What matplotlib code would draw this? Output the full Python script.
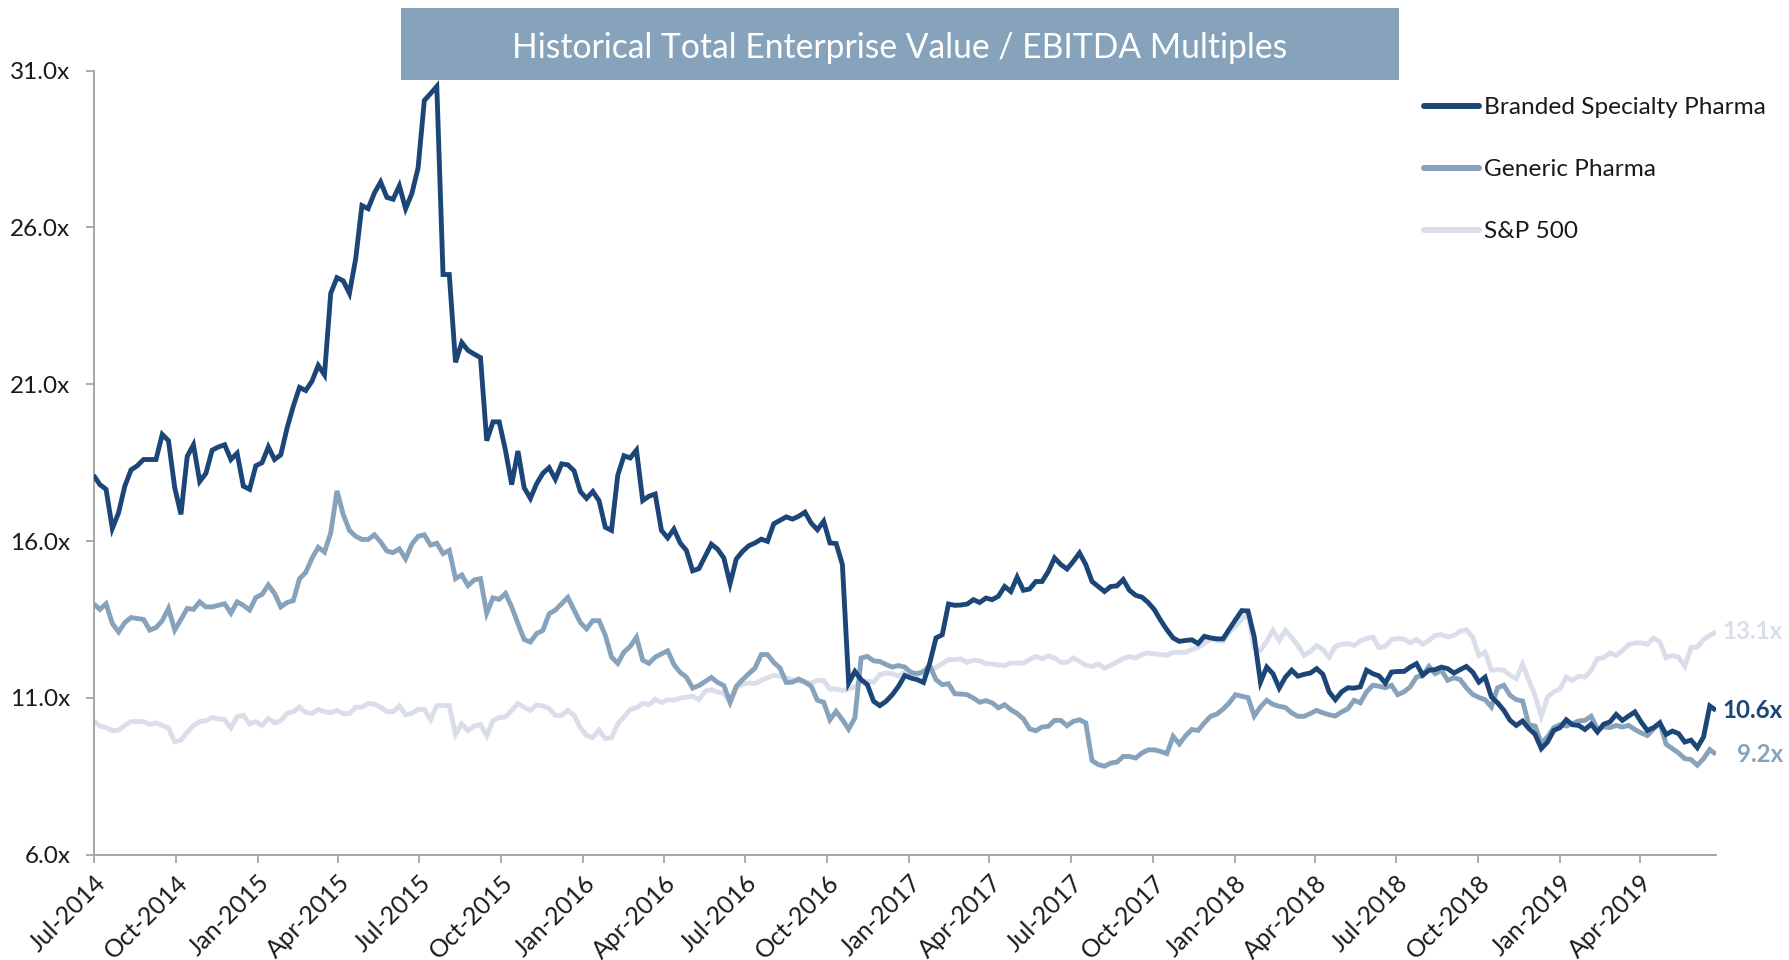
import matplotlib
matplotlib.use("Agg")
import matplotlib.pyplot as plt
import matplotlib.ticker as mticker
from matplotlib.patches import Rectangle
from matplotlib.lines import Line2D
import pandas as pd

plt.rcParams['font.family'] = ['Lato', 'DejaVu Sans']

# ---------------- data (weekly, starting Jul-2014) ----------------
start_date = "2014-07-01"

branded = [
    18.1, 17.8, 17.65, 16.4, 16.9, 17.75, 18.27, 18.4, 18.6, 18.6,
    18.6, 19.4, 19.2, 17.7, 16.85, 18.7, 19.07, 17.9, 18.16, 18.9,
    19.0, 19.07, 18.6, 18.8, 17.75, 17.65, 18.4, 18.5, 19.0, 18.6,
    18.75, 19.6, 20.3, 20.9, 20.8, 21.1, 21.6, 21.3, 23.9, 24.4,
    24.3, 23.9, 25.0, 26.7, 26.6, 27.1, 27.45, 26.96, 26.9, 27.33,
    26.6, 27.08, 27.9, 30.05, 30.27, 30.5, 24.5, 24.5, 21.7, 22.33,
    22.08, 21.96, 21.85, 19.2, 19.8, 19.8, 18.9, 17.8, 18.87, 17.7,
    17.36, 17.83, 18.16, 18.34, 17.97, 18.46, 18.43, 18.24, 17.58, 17.36,
    17.58, 17.29, 16.44, 16.34, 18.1, 18.72, 18.65, 18.9, 17.29, 17.43,
    17.5, 16.34, 16.1, 16.38, 15.94, 15.7, 15.05, 15.12, 15.51, 15.9,
    15.74, 15.46, 14.64, 15.43, 15.67, 15.85, 15.94, 16.06, 15.99, 16.55,
    16.66, 16.77, 16.7, 16.79, 16.92, 16.57, 16.36, 16.63, 15.94, 15.92,
    15.25, 11.47, 11.84, 11.58, 11.42, 10.89, 10.75, 10.89, 11.1, 11.37,
    11.71, 11.63, 11.58, 11.49, 12.11, 12.91, 13.01, 13.99, 13.95, 13.96,
    13.99, 14.13, 14.04, 14.18, 14.13, 14.24, 14.55, 14.39, 14.85, 14.43,
    14.47, 14.71, 14.71, 15.03, 15.46, 15.25, 15.11, 15.35, 15.62, 15.25,
    14.71, 14.55, 14.39, 14.55, 14.57, 14.77, 14.43, 14.27, 14.21, 14.04,
    13.81, 13.47, 13.17, 12.91, 12.8, 12.83, 12.85, 12.73, 12.96, 12.91,
    12.88, 12.88, 13.19, 13.49, 13.78, 13.77, 12.94, 11.5, 11.98, 11.77,
    11.31, 11.66, 11.88, 11.69, 11.75, 11.79, 11.93, 11.75, 11.19, 10.94,
    11.19, 11.32, 11.31, 11.35, 11.88, 11.77, 11.7, 11.47, 11.82, 11.84,
    11.84, 11.98, 12.09, 11.72, 11.88, 11.9, 11.98, 11.93, 11.79, 11.9,
    12.0, 11.82, 11.5, 11.66, 11.03, 10.84, 10.6, 10.28, 10.12, 10.26,
    10.02, 9.84, 9.38, 9.59, 9.96, 10.05, 10.3, 10.14, 10.12, 9.99,
    10.16, 9.91, 10.16, 10.23, 10.47, 10.28, 10.42, 10.55, 10.23, 9.96,
    10.05, 10.2, 9.83, 9.94, 9.86, 9.59, 9.65, 9.41, 9.75, 10.74,
    10.6,
]

generic = [
    14.0, 13.82, 14.0, 13.37, 13.1, 13.4, 13.56, 13.53, 13.5, 13.16,
    13.24, 13.46, 13.85, 13.16, 13.5, 13.85, 13.82, 14.06, 13.9, 13.9,
    13.95, 14.0, 13.7, 14.06, 13.95, 13.8, 14.2, 14.3, 14.6, 14.33,
    13.9, 14.04, 14.1, 14.8, 15.0, 15.45, 15.8, 15.65, 16.26, 17.6,
    16.85, 16.34, 16.15, 16.05, 16.05, 16.2, 15.97, 15.68, 15.63, 15.75,
    15.43, 15.9, 16.15, 16.2, 15.87, 15.93, 15.6, 15.7, 14.8, 14.92,
    14.58, 14.76, 14.8, 13.7, 14.19, 14.14, 14.33, 13.9, 13.37, 12.86,
    12.78, 13.05, 13.15, 13.68, 13.8, 14.0, 14.2, 13.8, 13.4, 13.2,
    13.46, 13.46, 13.0, 12.3, 12.1, 12.46, 12.64, 12.93, 12.2, 12.1,
    12.3, 12.4, 12.5, 12.06, 11.81, 11.66, 11.31, 11.39, 11.52, 11.65,
    11.49, 11.39, 10.86, 11.37, 11.58, 11.77, 11.95, 12.38, 12.38, 12.13,
    11.95, 11.49, 11.5, 11.6, 11.5, 11.37, 10.92, 10.86, 10.3, 10.57,
    10.3, 10.0, 10.36, 12.27, 12.32, 12.18, 12.16, 12.06, 11.98, 12.03,
    11.98, 11.81, 11.77, 11.84, 12.03, 11.58, 11.42, 11.45, 11.13, 11.12,
    11.1, 10.99, 10.86, 10.91, 10.84, 10.68, 10.78, 10.62, 10.5, 10.33,
    10.01, 9.95, 10.07, 10.09, 10.28, 10.28, 10.11, 10.25, 10.3, 10.2,
    9.0, 8.87, 8.82, 8.92, 8.95, 9.13, 9.13, 9.08, 9.24, 9.34,
    9.34, 9.29, 9.22, 9.77, 9.53, 9.79, 9.99, 9.96, 10.2, 10.41,
    10.48, 10.64, 10.84, 11.1, 11.05, 11.01, 10.42, 10.71, 10.92, 10.79,
    10.73, 10.69, 10.52, 10.41, 10.41, 10.5, 10.6, 10.52, 10.46, 10.42,
    10.55, 10.65, 10.92, 10.84, 11.19, 11.4, 11.37, 11.32, 11.4, 11.1,
    11.19, 11.35, 11.66, 11.72, 12.0, 11.77, 11.88, 11.56, 11.64, 11.58,
    11.32, 11.11, 11.01, 10.94, 10.71, 11.32, 11.4, 11.08, 10.94, 10.9,
    10.14, 10.1, 9.56, 9.75, 10.05, 10.14, 10.1, 10.18, 10.26, 10.28,
    10.41, 9.99, 10.07, 10.05, 10.12, 10.07, 10.12, 9.99, 9.88, 9.8,
    10.01, 10.2, 9.52, 9.38, 9.24, 9.06, 9.03, 8.85, 9.06, 9.35,
    9.2,
]

sp500 = [
    10.27, 10.1, 10.05, 9.95, 9.97, 10.12, 10.24, 10.24, 10.24, 10.15,
    10.2, 10.12, 10.04, 9.6, 9.65, 9.9, 10.12, 10.24, 10.27, 10.37,
    10.33, 10.3, 10.04, 10.4, 10.44, 10.17, 10.24, 10.12, 10.34, 10.2,
    10.27, 10.5, 10.56, 10.7, 10.53, 10.5, 10.63, 10.56, 10.53, 10.6,
    10.5, 10.5, 10.7, 10.7, 10.82, 10.8, 10.7, 10.56, 10.56, 10.74,
    10.46, 10.5, 10.63, 10.63, 10.3, 10.75, 10.75, 10.75, 9.83, 10.17,
    9.95, 10.1, 10.15, 9.79, 10.27, 10.37, 10.39, 10.6, 10.82, 10.7,
    10.6, 10.77, 10.74, 10.66, 10.44, 10.44, 10.6, 10.44, 10.05, 9.8,
    9.73, 9.97, 9.7, 9.73, 10.17, 10.39, 10.63, 10.68, 10.82, 10.78,
    10.95, 10.85, 10.94, 10.92, 10.99, 11.02, 11.05, 10.94, 11.21, 11.26,
    11.18, 11.15, 10.84, 11.31, 11.44, 11.47, 11.45, 11.56, 11.64, 11.72,
    11.69, 11.63, 11.58, 11.53, 11.5, 11.47, 11.56, 11.55, 11.28, 11.28,
    11.23, 11.28, 11.35, 11.53, 11.53, 11.5, 11.74, 11.79, 11.77, 11.69,
    11.81, 11.79, 11.76, 11.77, 11.84, 11.98, 12.09, 12.22, 12.22, 12.24,
    12.13, 12.2, 12.18, 12.09, 12.08, 12.05, 12.03, 12.11, 12.11, 12.11,
    12.22, 12.32, 12.25, 12.34, 12.27, 12.13, 12.13, 12.27, 12.16, 12.04,
    12.0, 12.08, 11.95, 12.04, 12.14, 12.25, 12.32, 12.27, 12.38, 12.43,
    12.4, 12.38, 12.36, 12.45, 12.45, 12.45, 12.54, 12.61, 12.72, 12.88,
    12.83, 12.8, 13.09, 13.28, 13.51, 13.66, 12.6, 12.51, 12.81, 13.15,
    12.83, 13.15, 12.92, 12.67, 12.35, 12.48, 12.67, 12.54, 12.3, 12.64,
    12.71, 12.73, 12.67, 12.81, 12.89, 12.94, 12.6, 12.64, 12.86, 12.89,
    12.87, 12.75, 12.86, 12.71, 12.83, 12.99, 13.02, 12.94, 12.99, 13.13,
    13.17, 12.94, 12.35, 12.46, 11.88, 11.9, 11.88, 11.72, 11.61, 12.07,
    11.56, 11.08, 10.41, 11.03, 11.19, 11.29, 11.66, 11.56, 11.69, 11.66,
    11.88, 12.25, 12.28, 12.43, 12.35, 12.51, 12.69, 12.75, 12.75, 12.71,
    12.91, 12.78, 12.28, 12.35, 12.3, 12.0, 12.6, 12.62, 12.86, 12.99,
    13.1,
]

series_names = ["Branded Specialty Pharma", "Generic Pharma", "S&P 500"]
y_ticks = [6.0, 11.0, 16.0, 21.0, 26.0, 31.0]
title_text = "Historical Total Enterprise Value / EBITDA Multiples"
tick_start, tick_end = "2014-07-01", "2019-04-01"

# ---------------- styling ----------------
C_BRANDED = "#1B4677"
C_GENERIC = "#87A3BC"
C_SP = "#D9DEEA"
C_TITLE = "#87A3BB"
C_AXIS = "#A6A6A6"
C_TEXT = "#1A1A1A"

W, H = 1789, 960
fig = plt.figure(figsize=(W / 100, H / 100), dpi=100)
L, R = 93.6 / W, 1716 / W
B, T = 1 - 854.6 / H, 1 - 70.7 / H
ax = fig.add_axes([L, B, R - L, T - B])

dates = pd.date_range(start_date, periods=len(branded), freq="7D")
series = [branded, generic, sp500]
colors = [C_BRANDED, C_GENERIC, C_SP]

for vals, col, name, z in zip(series[::-1], colors[::-1], series_names[::-1], [2, 3, 4]):
    ax.plot(dates, vals, color=col, lw=3.5, solid_joinstyle="miter",
            solid_capstyle="butt", zorder=z, label=name)

ax.set_xlim(dates[0], dates[-1])
ax.set_ylim(y_ticks[0], y_ticks[-1])
ax.set_yticks(y_ticks)
ax.yaxis.set_major_formatter(mticker.FuncFormatter(lambda v, p: f"{v:.1f}x"))

qticks = pd.date_range(tick_start, tick_end, freq="QS")
ax.set_xticks(qticks)
ax.set_xticklabels([d.strftime("%b-%Y") for d in qticks], rotation=45,
                   ha="right", va="top", rotation_mode="anchor")

for s in ["top", "right"]:
    ax.spines[s].set_visible(False)
for s in ["left", "bottom"]:
    ax.spines[s].set_color(C_AXIS)
    ax.spines[s].set_linewidth(1.4)

ax.tick_params(axis="both", direction="out", length=5.8, width=1.3, color=C_AXIS,
               labelcolor=C_TEXT)
ax.tick_params(axis="y", pad=11, labelsize=17.5)
ax.tick_params(axis="x", pad=6, labelsize=17.8)

# end-of-series value labels
lbl_x = (1783 - 93.6) / (1716 - 93.6)
for vals, col in zip(series, colors):
    ax.text(lbl_x, vals[-1], f"{vals[-1]:.1f}x", transform=ax.get_yaxis_transform(),
            ha="right", va="center", color=col, fontsize=17.4, fontweight="bold",
            clip_on=False)

# title banner
fig.patches.append(Rectangle((401 / W, 1 - 80 / H), (1399 - 401) / W, (80 - 8) / H,
                             transform=fig.transFigure, facecolor=C_TITLE,
                             edgecolor="none", zorder=5))
fig.text(900 / W, 1 - 48 / H, title_text, color="white", fontsize=24.2,
         ha="center", va="center", zorder=6)

# legend
handles = [Line2D([], [], color=c, lw=4.3, solid_capstyle="round") for c in colors]
fig.legend(handles, series_names, loc="upper left",
           bbox_to_anchor=(1424 / W, 1 - 97 / H), frameon=False,
           fontsize=17.6, handlelength=2.25, handletextpad=0.2,
           labelspacing=1.68, labelcolor=C_TEXT, borderaxespad=0, borderpad=0)

fig.savefig("out.png", dpi=100)
